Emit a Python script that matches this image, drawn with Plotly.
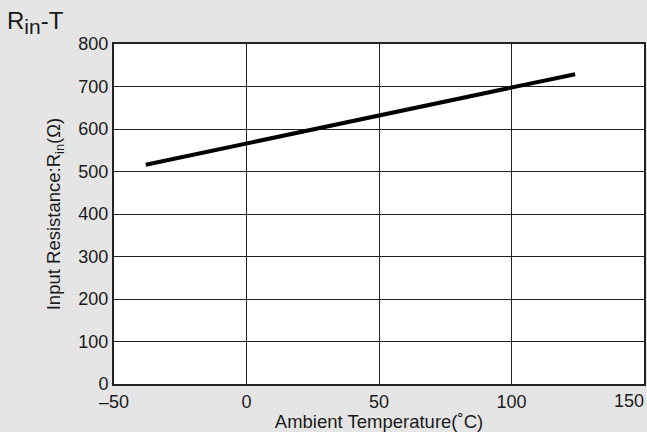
import plotly.graph_objects as go

temp_c = [-38, 124]
r_in_ohm = [516, 729]

x_tick_vals = [-50, 0, 50, 100, 150]
x_tick_text = ["–50", "0", "50", "100", ""]
y_tick_vals = [0, 100, 200, 300, 400, 500, 600, 700, 800]
y_tick_text = ["0", "100", "200", "300", "400", "500", "600", "700", "800"]

FONT = "Liberation Sans, Arial, sans-serif"
BG = "#e5e5e5"
TXT = "#1a1a1a"

fig = go.Figure()
fig.add_trace(go.Scatter(x=temp_c, y=r_in_ohm, mode="lines",
                         line=dict(color="#000000", width=4), showlegend=False,
                         hoverinfo="skip"))

fig.update_layout(
    width=647, height=432,
    margin=dict(l=114, r=3, t=44, b=48),
    paper_bgcolor=BG, plot_bgcolor="#ffffff",
    font=dict(family=FONT, size=18, color=TXT),
    xaxis=dict(range=[-50, 150], tickvals=x_tick_vals, ticktext=x_tick_text,
               showgrid=True, gridcolor="#222222", gridwidth=1,
               showline=True, linecolor="#222222", linewidth=2, mirror=True,
               ticks="", zeroline=False, automargin=False,
               tickfont=dict(size=18),
               title=dict(text="Ambient Temperature(˚C)", font=dict(size=18.5), standoff=2)),
    yaxis=dict(range=[0, 800], tickvals=y_tick_vals, ticktext=y_tick_text,
               showgrid=True, gridcolor="#222222", gridwidth=1,
               showline=True, linecolor="#222222", linewidth=2, mirror=True,
               ticks="", zeroline=False, automargin=False,
               tickfont=dict(size=18),
               title=dict(text="Input Resistance:R<sub>in</sub>(Ω)", font=dict(size=18.5), standoff=13)),
    annotations=[
        dict(text="R<sub><span style='font-size:21px'>in</span></sub>-T",
             xref="paper", yref="paper", x=-0.205, y=1.062,
             xanchor="left", yanchor="middle", showarrow=False,
             font=dict(size=24, color=TXT, family=FONT)),
        dict(text="150", xref="x", yref="paper", x=150, y=0, xanchor="right",
             yanchor="top", yshift=-5, xshift=2, showarrow=False,
             font=dict(size=18, color=TXT, family=FONT)),
    ],
)

fig.write_html("out.html")
